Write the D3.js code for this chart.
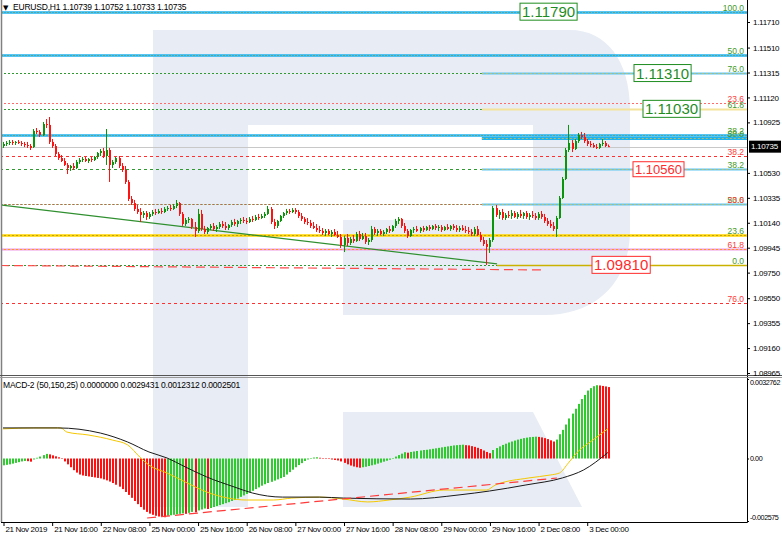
<!DOCTYPE html>
<html><head><meta charset="utf-8">
<script src="https://cdn.jsdelivr.net/npm/d3@7"></script>
<style>
html,body{margin:0;padding:0;background:#fff;}
svg{display:block;font-family:"Liberation Sans",Arial,sans-serif;}
</style></head><body>
<svg id="c" width="782" height="538"></svg>
<script>
// ---------------- DATA ----------------
const symbolHeader = "EURUSD,H1  1.10739 1.10752 1.10733 1.10735";
const macdHeader = "MACD-2 (50,150,25) 0.0000000 0.0029431 0.0012312 0.0002501";
const timeTickBars = [0,16,32,48,64,80,96,112,128,144,160,176,192];
const timeLabels = ["21 Nov 2019","21 Nov 16:00","22 Nov 08:00","25 Nov 00:00","25 Nov 16:00","26 Nov 08:00","27 Nov 00:00","27 Nov 16:00","28 Nov 08:00","29 Nov 00:00","29 Nov 16:00","2 Dec 08:00","3 Dec 00:00"];
const priceTicks = [1.11710,1.11510,1.11315,1.11120,1.10925,1.10530,1.10335,1.10140,1.09945,1.09750,1.09550,1.09355,1.09160,1.08965];
const lastPrice = 1.10735;
const macdTicks = [0.0032762,0,-0.002575];
const macdTickLabels = ["0.0032762","0.00","-0.002575"];

const open = [
1.10740,1.10756,1.10764,1.10772,1.10764,1.10772,1.10764,1.10756,1.10748,1.10740,
1.10732,1.10858,1.10850,1.10826,1.10912,1.10905,1.10772,1.10740,1.10678,1.10646,
1.10623,1.10592,1.10568,1.10584,1.10568,1.10615,1.10631,1.10639,1.10623,1.10639,
1.10631,1.10654,1.10686,1.10701,1.10662,1.10709,1.10592,1.10615,1.10646,1.10584,
1.10553,1.10459,1.10326,1.10294,1.10248,1.10224,1.10201,1.10216,1.10185,1.10209,
1.10224,1.10216,1.10232,1.10224,1.10248,1.10255,1.10248,1.10271,1.10294,1.10209,
1.10130,1.10162,1.10170,1.10107,1.10076,1.10209,1.10091,1.10068,1.10099,1.10115,
1.10091,1.10107,1.10130,1.10115,1.10099,1.10122,1.10146,1.10130,1.10154,1.10162,
1.10154,1.10146,1.10170,1.10162,1.10185,1.10177,1.10193,1.10209,1.10248,1.10146,
1.10115,1.10154,1.10193,1.10216,1.10232,1.10224,1.10240,1.10224,1.10193,1.10170,
1.10146,1.10138,1.10115,1.10099,1.10083,1.10076,1.10060,1.10076,1.10052,1.10068,
1.10044,1.10029,1.09966,1.10021,1.09982,1.10013,1.09997,1.10052,1.10013,1.10036,
1.09990,1.10005,1.10091,1.10060,1.10076,1.10052,1.10068,1.10091,1.10076,1.10115,
1.10154,1.10170,1.10115,1.10076,1.10036,1.10083,1.10091,1.10076,1.10099,1.10083,
1.10107,1.10091,1.10115,1.10099,1.10107,1.10083,1.10107,1.10091,1.10115,1.10099,
1.10083,1.10099,1.10083,1.10076,1.10068,1.10052,1.10091,1.10044,1.10005,1.09974,
1.09951,1.10005,1.10255,1.10201,1.10224,1.10177,1.10201,1.10193,1.10216,1.10185,
1.10209,1.10193,1.10216,1.10185,1.10201,1.10193,1.10177,1.10209,1.10185,1.10154,
1.10130,1.10115,1.10091,1.10177,1.10334,1.10482,1.10709,1.10764,1.10717,1.10779,
1.10826,1.10811,1.10779,1.10756,1.10748,1.10732,1.10725,1.10756,1.10764,1.10739];
const high = [
1.10772,1.10779,1.10787,1.10787,1.10779,1.10787,1.10779,1.10772,1.10772,1.10756,
1.10873,1.10881,1.10865,1.10928,1.10951,1.10967,1.10795,1.10756,1.10693,1.10670,
1.10646,1.10607,1.10592,1.10607,1.10631,1.10646,1.10654,1.10654,1.10646,1.10654,
1.10662,1.10693,1.10717,1.10725,1.10873,1.10725,1.10631,1.10654,1.10662,1.10607,
1.10584,1.10474,1.10349,1.10318,1.10279,1.10255,1.10232,1.10232,1.10224,1.10240,
1.10248,1.10248,1.10255,1.10263,1.10271,1.10279,1.10287,1.10318,1.10302,1.10224,
1.10177,1.10185,1.10177,1.10146,1.10248,1.10240,1.10115,1.10107,1.10130,1.10138,
1.10122,1.10146,1.10154,1.10146,1.10130,1.10162,1.10170,1.10162,1.10177,1.10185,
1.10177,1.10185,1.10193,1.10201,1.10209,1.10209,1.10224,1.10271,1.10263,1.10170,
1.10162,1.10201,1.10224,1.10248,1.10248,1.10255,1.10255,1.10240,1.10216,1.10185,
1.10177,1.10162,1.10146,1.10130,1.10115,1.10099,1.10091,1.10091,1.10083,1.10091,
1.10076,1.10052,1.10036,1.10052,1.10029,1.10044,1.10068,1.10076,1.10060,1.10060,
1.10021,1.10115,1.10107,1.10091,1.10091,1.10083,1.10099,1.10115,1.10122,1.10170,
1.10185,1.10177,1.10138,1.10091,1.10091,1.10107,1.10115,1.10107,1.10115,1.10115,
1.10122,1.10122,1.10130,1.10122,1.10122,1.10115,1.10130,1.10122,1.10130,1.10122,
1.10115,1.10122,1.10115,1.10107,1.10091,1.10107,1.10115,1.10068,1.10029,1.10005,
1.10021,1.10271,1.10279,1.10240,1.10248,1.10216,1.10232,1.10240,1.10232,1.10224,
1.10240,1.10224,1.10232,1.10216,1.10232,1.10216,1.10224,1.10232,1.10209,1.10177,
1.10162,1.10146,1.10193,1.10349,1.10498,1.10725,1.10905,1.10787,1.10795,1.10842,
1.10850,1.10842,1.10795,1.10779,1.10764,1.10756,1.10764,1.10795,1.10779,1.10752];
const low = [
1.10725,1.10740,1.10748,1.10748,1.10748,1.10756,1.10740,1.10732,1.10725,1.10709,
1.10725,1.10834,1.10811,1.10819,1.10881,1.10756,1.10725,1.10662,1.10631,1.10615,
1.10584,1.10521,1.10545,1.10553,1.10560,1.10600,1.10615,1.10615,1.10607,1.10615,
1.10623,1.10639,1.10662,1.10646,1.10592,1.10459,1.10568,1.10600,1.10568,1.10537,
1.10443,1.10310,1.10279,1.10232,1.10209,1.10146,1.10177,1.10162,1.10170,1.10193,
1.10201,1.10209,1.10209,1.10216,1.10232,1.10232,1.10240,1.10255,1.10193,1.10115,
1.10115,1.10138,1.10091,1.10029,1.10060,1.10076,1.10052,1.10052,1.10083,1.10076,
1.10068,1.10091,1.10099,1.10083,1.10083,1.10107,1.10115,1.10107,1.10130,1.10138,
1.10130,1.10138,1.10146,1.10154,1.10162,1.10170,1.10177,1.10201,1.10130,1.10091,
1.10099,1.10146,1.10177,1.10201,1.10209,1.10216,1.10209,1.10177,1.10154,1.10130,
1.10122,1.10099,1.10091,1.10068,1.10060,1.10044,1.10036,1.10044,1.10029,1.10036,
1.10021,1.09943,1.09911,1.09958,1.09966,1.09982,1.09990,1.09997,1.10005,1.09974,
1.09966,1.09990,1.10044,1.10036,1.10044,1.10036,1.10052,1.10060,1.10068,1.10099,
1.10130,1.10099,1.10060,1.10021,1.10029,1.10060,1.10068,1.10060,1.10068,1.10076,
1.10076,1.10083,1.10083,1.10076,1.10068,1.10076,1.10083,1.10076,1.10083,1.10068,
1.10068,1.10076,1.10060,1.10052,1.10036,1.10036,1.10036,1.09990,1.09958,1.09810,
1.09904,1.09990,1.10185,1.10170,1.10162,1.10162,1.10177,1.10170,1.10177,1.10170,
1.10177,1.10170,1.10170,1.10162,1.10177,1.10162,1.10162,1.10170,1.10138,1.10115,
1.10099,1.10076,1.10029,1.10170,1.10326,1.10474,1.10693,1.10693,1.10709,1.10764,
1.10795,1.10764,1.10740,1.10732,1.10725,1.10717,1.10717,1.10740,1.10732,1.10733];
const close = [
1.10756,1.10764,1.10772,1.10764,1.10772,1.10764,1.10756,1.10748,1.10740,1.10725,
1.10858,1.10850,1.10826,1.10912,1.10905,1.10772,1.10740,1.10678,1.10646,1.10623,
1.10592,1.10568,1.10584,1.10568,1.10615,1.10631,1.10639,1.10623,1.10639,1.10631,
1.10654,1.10686,1.10701,1.10662,1.10709,1.10592,1.10615,1.10646,1.10584,1.10553,
1.10459,1.10326,1.10294,1.10248,1.10224,1.10201,1.10216,1.10185,1.10209,1.10224,
1.10216,1.10232,1.10224,1.10248,1.10255,1.10248,1.10271,1.10294,1.10209,1.10130,
1.10162,1.10170,1.10107,1.10076,1.10209,1.10091,1.10068,1.10099,1.10115,1.10091,
1.10107,1.10130,1.10115,1.10099,1.10122,1.10146,1.10130,1.10154,1.10162,1.10154,
1.10146,1.10170,1.10162,1.10185,1.10177,1.10193,1.10209,1.10248,1.10146,1.10115,
1.10154,1.10193,1.10216,1.10232,1.10224,1.10240,1.10224,1.10193,1.10170,1.10146,
1.10138,1.10115,1.10099,1.10083,1.10076,1.10060,1.10076,1.10052,1.10068,1.10044,
1.10029,1.09966,1.10021,1.09982,1.10013,1.09997,1.10052,1.10013,1.10036,1.09990,
1.10005,1.10091,1.10060,1.10076,1.10052,1.10068,1.10091,1.10076,1.10115,1.10154,
1.10170,1.10115,1.10076,1.10036,1.10083,1.10091,1.10076,1.10099,1.10083,1.10107,
1.10091,1.10115,1.10099,1.10107,1.10083,1.10107,1.10091,1.10115,1.10099,1.10083,
1.10099,1.10083,1.10076,1.10068,1.10052,1.10091,1.10044,1.10005,1.09974,1.09951,
1.10005,1.10255,1.10201,1.10224,1.10177,1.10201,1.10193,1.10216,1.10185,1.10209,
1.10193,1.10216,1.10185,1.10201,1.10193,1.10177,1.10209,1.10185,1.10154,1.10130,
1.10115,1.10091,1.10177,1.10334,1.10482,1.10709,1.10764,1.10717,1.10779,1.10826,
1.10811,1.10779,1.10756,1.10748,1.10732,1.10725,1.10756,1.10764,1.10740,1.10735];

const macdHist = [
-0.00028,-0.00026,-0.00024,-0.00021,-0.00018,-0.00015,-0.00012,-0.00010,-0.00011,-0.00013,
-0.00004,0.00003,0.00008,0.00014,0.00019,0.00017,0.00013,0.00009,0.00005,0.00000,
-0.00012,-0.00024,-0.00036,-0.00048,-0.00058,-0.00066,-0.00070,-0.00072,-0.00074,-0.00076,
-0.00078,-0.00080,-0.00082,-0.00086,-0.00090,-0.00095,-0.00101,-0.00108,-0.00116,-0.00126,
-0.00138,-0.00150,-0.00162,-0.00175,-0.00188,-0.00200,-0.00211,-0.00220,-0.00227,-0.00232,
-0.00236,-0.00239,-0.00241,-0.00242,-0.00236,-0.00234,-0.00232,-0.00230,-0.00228,-0.00226,
-0.00228,-0.00224,-0.00220,-0.00222,-0.00214,-0.00210,-0.00206,-0.00208,-0.00204,-0.00200,
-0.00196,-0.00192,-0.00188,-0.00184,-0.00180,-0.00175,-0.00171,-0.00165,-0.00158,-0.00152,
-0.00146,-0.00140,-0.00133,-0.00126,-0.00119,-0.00112,-0.00106,-0.00101,-0.00096,-0.00091,
-0.00086,-0.00081,-0.00076,-0.00066,-0.00056,-0.00046,-0.00036,-0.00027,-0.00019,-0.00010,
-0.00004,0.00002,0.00004,0.00005,0.00003,0.00001,-0.00001,-0.00002,-0.00004,-0.00006,
-0.00008,-0.00012,-0.00018,-0.00024,-0.00029,-0.00033,-0.00036,-0.00038,-0.00036,-0.00034,
-0.00031,-0.00028,-0.00025,-0.00021,-0.00017,-0.00013,-0.00009,-0.00005,-0.00001,0.00008,
0.00014,0.00020,0.00026,0.00024,0.00027,0.00029,0.00031,0.00033,0.00035,0.00036,
0.00038,0.00040,0.00042,0.00044,0.00046,0.00048,0.00050,0.00052,0.00054,0.00055,
0.00056,0.00057,0.00055,0.00054,0.00051,0.00048,0.00044,0.00039,0.00033,0.00027,
0.00022,0.00035,0.00043,0.00050,0.00056,0.00061,0.00066,0.00070,0.00074,0.00078,
0.00081,0.00084,0.00086,0.00088,0.00089,0.00090,0.00089,0.00087,0.00084,0.00080,
0.00075,0.00070,0.00078,0.00100,0.00118,0.00140,0.00165,0.00185,0.00205,0.00225,
0.00245,0.00262,0.00280,0.00290,0.00298,0.00302,0.00301,0.00299,0.00297,0.0029431];

// black line (read at these bars)
const blackBars = [0,18,32,41,48,54,60,67,76,82,92,104,112,134,150,160,172,184,191,199];
const blackVals = [0.00126,0.00126,0.00105,0.00068,0.00027,0.00002,-0.00035,-0.00076,-0.00117,-0.00142,-0.00159,-0.00159,-0.00163,-0.00167,-0.00150,-0.00134,-0.00109,-0.00080,-0.00047,0.0002501];
// yellow line
const yellowBars = [0,10,19,21,28,36,41,45,48,54,60,67,74,80,89,95,104,112,120,127,134,145,159,162,173,180,183,186,189,194,199];
const yellowVals = [0.00122,0.00126,0.00126,0.00109,0.00097,0.00076,0.00056,0.00006,-0.00027,-0.00060,-0.00097,-0.00138,-0.00163,-0.00171,-0.00171,-0.00163,-0.00159,-0.00167,-0.00179,-0.00171,-0.00159,-0.00130,-0.00130,-0.00109,-0.00080,-0.00068,-0.00060,-0.00018,0.00027,0.00076,0.0012312];

// fibonacci / horizontal levels
const fibLevels = [1.11790,1.11455,1.11310,1.11075,1.11030,1.10826,1.10800,1.10662,1.10560,1.10287,1.10044,1.09935,1.09810,1.09513];
const fibTexts  = [["100.0"],["50.0"],["76.0"],["23.6"],["61.8"],["38.2"],["50.0"],["38.2"],["38.2"],["50.0","23.6"],["23.6"],["61.8"],["0.0"],["76.0"]];
const fibTextKinds = [["g"],["g"],["g"],["r"],["g"],["g"],["g"],["r"],["g"],["g","r"],["g"],["r"],["g"],["r"]];
const fibSegmentStartBar = 157.5;
const boxPrices = [1.11790,1.11310,1.11030,1.10560,1.09810];
const boxTexts = ["1.11790","1.11310","1.11030","1.10560","1.09810"];
const boxKinds = ["g","g","g","r","r"];
// trend lines [bar, price]
const greenTrend = [[-1,1.10279],[162.5,1.09818]];
const redTrend = [[-1,1.09806],[177,1.09771]];
const macdTrend = [[47.4,-0.002452],[182.2,-0.000804]];

// ---------------- STYLE / LAYOUT ----------------
const C = {bull:"#0a960a", bear:"#ff1212", hG:"#2fcc2f", hR:"#ff1010",
  cyan:"#1fb3ee", gLab:"#3f9a2a", rLab:"#ff3a3a", gBox:"#1f8c1f", rBox:"#ff2a2a"};
const levelStyle = [
 ["cyan"],["cyan"],["gdot","segCyan"],["rdot"],["gdot","segYellow"],["cyan"],["segCyanThick"],
 ["rdash"],["gdash","segCyan"],["rdot","gdot2","segCyan"],["yellow"],["pink"],["gdot","segOlive"],["rdash"]];
const boxLeft = [520,634,643,633,592];
const boxFont = [15,15,15,13,15];

const svg = d3.select("#c");
const PR = 747, PB = 375, MT = 377, MB = 522;
const x = d3.scaleLinear().domain([0,199]).range([3,608]);
const y = d3.scaleLinear().domain([1.08965,1.11710]).range([373,22]);
const ym = d3.scaleLinear().domain([-0.002575,0.0032762]).range([521,379]);

svg.append("rect").attr("width",782).attr("height",538).attr("fill","#fff");

const defs = svg.append("defs");
defs.append("clipPath").attr("id","cp").append("rect").attr("x",2).attr("y",1).attr("width",PR-2).attr("height",PB-1);
defs.append("clipPath").attr("id","cm").append("rect").attr("x",2).attr("y",MT+1).attr("width",PR-2).attr("height",MB-MT-1);

// watermark logo
const wm = svg.append("g").attr("fill","#e8ecf4");
wm.append("path").attr("d","M153,30H248V507H153Z");
wm.append("path").attr("d","M248,30H570C606,30 630,60 630,110V230C630,282 596,315 545,315H343V220H533V125H248Z");
wm.append("path").attr("d","M343,412H533L582,507H343Z");

// ---------- price panel ----------
const gp = svg.append("g").attr("clip-path","url(#cp)");
function hline(g, p, x0, x1, stroke, w, dash, op){
  g.append("line").attr("x1",x0).attr("x2",x1).attr("y1",Math.round(y(p))+0.5).attr("y2",Math.round(y(p))+0.5)
   .attr("stroke",stroke).attr("stroke-width",w).attr("stroke-dasharray",dash||null).attr("opacity",op||1);
}
const segX0 = x(fibSegmentStartBar);
fibLevels.forEach((p,i)=>{
  levelStyle[i].forEach(s=>{
    if(s==="cyan"){ hline(gp,p,0,PR,C.cyan,2.5); hline(gp,p,0,PR,"#d8b040",1,"1,2",0.7); }
    if(s==="gdot") hline(gp,p,0,PR,"#2f9a2f",1,"2,2");
    if(s==="gdot2") hline(gp,p,1,PR,"#2f9a2f",1,"2,2",0.6);
    if(s==="rdot") hline(gp,p,0,PR,"#ff6a6a",1,"2,2");
    if(s==="rdash") hline(gp,p,0,PR,"#ff3030",1,"3,3");
    if(s==="gdash") hline(gp,p,0,PR,"#2f9a2f",1,"3,3");
    if(s==="yellow"){ hline(gp,p,0,PR,"#ffd400",2.5); hline(gp,p,0,PR,"#a89000",1,"2,2",0.7); }
    if(s==="pink"){ hline(gp,p,0,PR,"#f09ae8",2); hline(gp,p,0,PR,"#ff9a1a",1,"2,2"); }
    if(s==="segCyan"){ hline(gp,p,segX0,PR,"#5cc6f2",2); hline(gp,p,segX0,PR,"#e8c040",1,"2,2",0.7); }
    if(s==="segCyanThick"){ hline(gp,p,segX0,PR,C.cyan,3); hline(gp,p,segX0,PR,"#e8c040",1,"2,2",0.7); }
    if(s==="segYellow"){ hline(gp,p,segX0,PR,"#f4e39a",2); }
    if(s==="segOlive"){ hline(gp,p,x(greenTrend[1][0]),PR,"#c9b200",1.5); }
  });
});
// current price line
hline(gp,lastPrice,0,PR,"#c8c8c8",1);

// trend lines
const tl = d3.line().x(d=>x(d[0])).y(d=>y(d[1]));
gp.append("path").attr("d",tl(greenTrend)).attr("fill","none").attr("stroke","#2f8f2f").attr("stroke-width",1.2);
gp.append("path").attr("d",tl(redTrend)).attr("fill","none").attr("stroke","#ff4a4a").attr("stroke-width",1.2).attr("stroke-dasharray","9,5");

// candles
const idx = d3.range(open.length);
const cg = gp.append("g");
cg.selectAll("line.w").data(idx).join("line")
  .attr("x1",i=>Math.round(x(i))+0.5).attr("x2",i=>Math.round(x(i))+0.5)
  .attr("y1",i=>y(high[i])).attr("y2",i=>y(low[i]))
  .attr("stroke",i=>close[i]>=open[i]?C.bull:C.bear).attr("stroke-width",1);
cg.selectAll("rect").data(idx).join("rect")
  .attr("x",i=>Math.round(x(i))).attr("width",2)
  .attr("y",i=>Math.min(y(open[i]),y(close[i])))
  .attr("height",i=>Math.max(1,Math.abs(y(open[i])-y(close[i]))))
  .attr("fill",i=>close[i]>=open[i]?C.bull:C.bear);

// fib labels
fibLevels.forEach((p,i)=>{
  fibTexts[i].forEach((t,k)=>{
    gp.append("text").attr("x",744).attr("y",Math.round(y(p))-1).attr("text-anchor","end")
      .attr("font-size",8.5).attr("fill",fibTextKinds[i][k]==="g"?C.gLab:C.rLab).text(t);
  });
});

// price boxes
boxPrices.forEach((p,i)=>{
  const col = boxKinds[i]==="g"?C.gBox:C.rBox;
  const t = gp.append("text").attr("x",boxLeft[i]+2).attr("y",y(p)).attr("dy","0.36em")
     .attr("font-size",boxFont[i]).attr("fill",col).text(boxTexts[i]);
  const bb = t.node().getBBox();
  gp.insert("rect", () => t.node()).attr("x",bb.x-2).attr("y",bb.y).attr("width",bb.width+4).attr("height",bb.height)
     .attr("fill","#fff").attr("stroke",col).attr("stroke-width",1);
});

// header
svg.append("text").attr("x",3).attr("y",10).attr("font-size",7).attr("font-family","DejaVu Sans").attr("fill","#000").text("\u25BC");
svg.append("text").attr("x",13).attr("y",10).attr("font-size",8.5).attr("letter-spacing","-0.2").attr("fill","#000").text(symbolHeader);

// ---------- MACD panel ----------
const gm = svg.append("g").attr("clip-path","url(#cm)");
gm.selectAll("rect").data(idx).join("rect")
  .attr("x",i=>Math.round(x(i))).attr("width",2)
  .attr("y",i=>Math.min(ym(macdHist[i]),ym(0)))
  .attr("height",i=>Math.max(0.5,Math.abs(ym(macdHist[i])-ym(0))))
  .attr("fill",i=> (i===0||macdHist[i]>=macdHist[i-1])?C.hG:C.hR);
const ml = d3.line().x(d=>x(d[0])).y(d=>ym(d[1])).curve(d3.curveMonotoneX);
gm.append("path").attr("d",ml(yellowBars.map((b,i)=>[b,yellowVals[i]]))).attr("fill","none").attr("stroke","#f5c800").attr("stroke-width",1);
gm.append("path").attr("d",ml(blackBars.map((b,i)=>[b,blackVals[i]]))).attr("fill","none").attr("stroke","#1a1a1a").attr("stroke-width",1);
gm.append("path").attr("d",d3.line().x(d=>x(d[0])).y(d=>ym(d[1]))(macdTrend)).attr("fill","none").attr("stroke","#ff3a3a").attr("stroke-width",1.2).attr("stroke-dasharray","9,5");
svg.append("text").attr("x",3).attr("y",388).attr("font-size",8.5).attr("letter-spacing","-0.2").attr("fill","#000").text(macdHeader);

// ---------- frame ----------
svg.append("line").attr("x1",1.5).attr("x2",1.5).attr("y1",0).attr("y2",MB).attr("stroke","#808080").attr("stroke-width",1.5);
svg.append("line").attr("x1",PR+0.5).attr("x2",PR+0.5).attr("y1",0).attr("y2",MB+0.5).attr("stroke","#000");
svg.append("line").attr("x1",1).attr("x2",PR+0.5).attr("y1",MB+0.5).attr("y2",MB+0.5).attr("stroke","#000");
svg.append("line").attr("x1",0).attr("x2",782).attr("y1",PB+0.5).attr("y2",PB+0.5).attr("stroke","#555");
svg.append("line").attr("x1",0).attr("x2",782).attr("y1",PB+2.5).attr("y2",PB+2.5).attr("stroke","#999");

// price axis
const pa = svg.append("g").attr("transform",`translate(${PR},0)`)
  .call(d3.axisRight(y).tickValues(priceTicks).tickFormat(d3.format(".5f")).tickSize(3).tickPadding(3));
pa.select(".domain").remove();
pa.selectAll("text").attr("font-size",8).attr("font-family","Liberation Sans").attr("letter-spacing","-0.3");
// current price box
const cpy = y(lastPrice);
svg.append("rect").attr("x",PR+2).attr("y",cpy-6).attr("width",32).attr("height",12).attr("fill","#000");
svg.append("text").attr("x",PR+4).attr("y",cpy).attr("dy","0.34em").attr("font-size",8).attr("letter-spacing","-0.3").attr("fill","#fff").text(lastPrice.toFixed(5));

// macd axis
const ma = svg.append("g").attr("transform",`translate(${PR},0)`)
  .call(d3.axisRight(ym).tickValues(macdTicks).tickFormat((d,i)=>macdTickLabels[i]).tickSize(2).tickPadding(1));
ma.select(".domain").remove();
const macdLabelNudge = [3,0,-4];
ma.selectAll("text").attr("font-size",7.2).attr("font-family","Liberation Sans").attr("letter-spacing","-0.45")
  .attr("transform",(d,i)=>`translate(0,${macdLabelNudge[i]})`);

// time axis
const ta = svg.append("g").attr("transform",`translate(0,${MB})`)
  .call(d3.axisBottom(x).tickValues(timeTickBars).tickFormat((d,i)=>timeLabels[i]).tickSize(4));
ta.select(".domain").remove();
ta.selectAll(".tick line").attr("transform","translate(0.5,0)");
ta.selectAll("text").attr("text-anchor","start").attr("x",2).attr("y",4)
  .attr("font-size",8).attr("font-family","Liberation Sans").attr("letter-spacing","-0.35");
</script>
</body></html>
